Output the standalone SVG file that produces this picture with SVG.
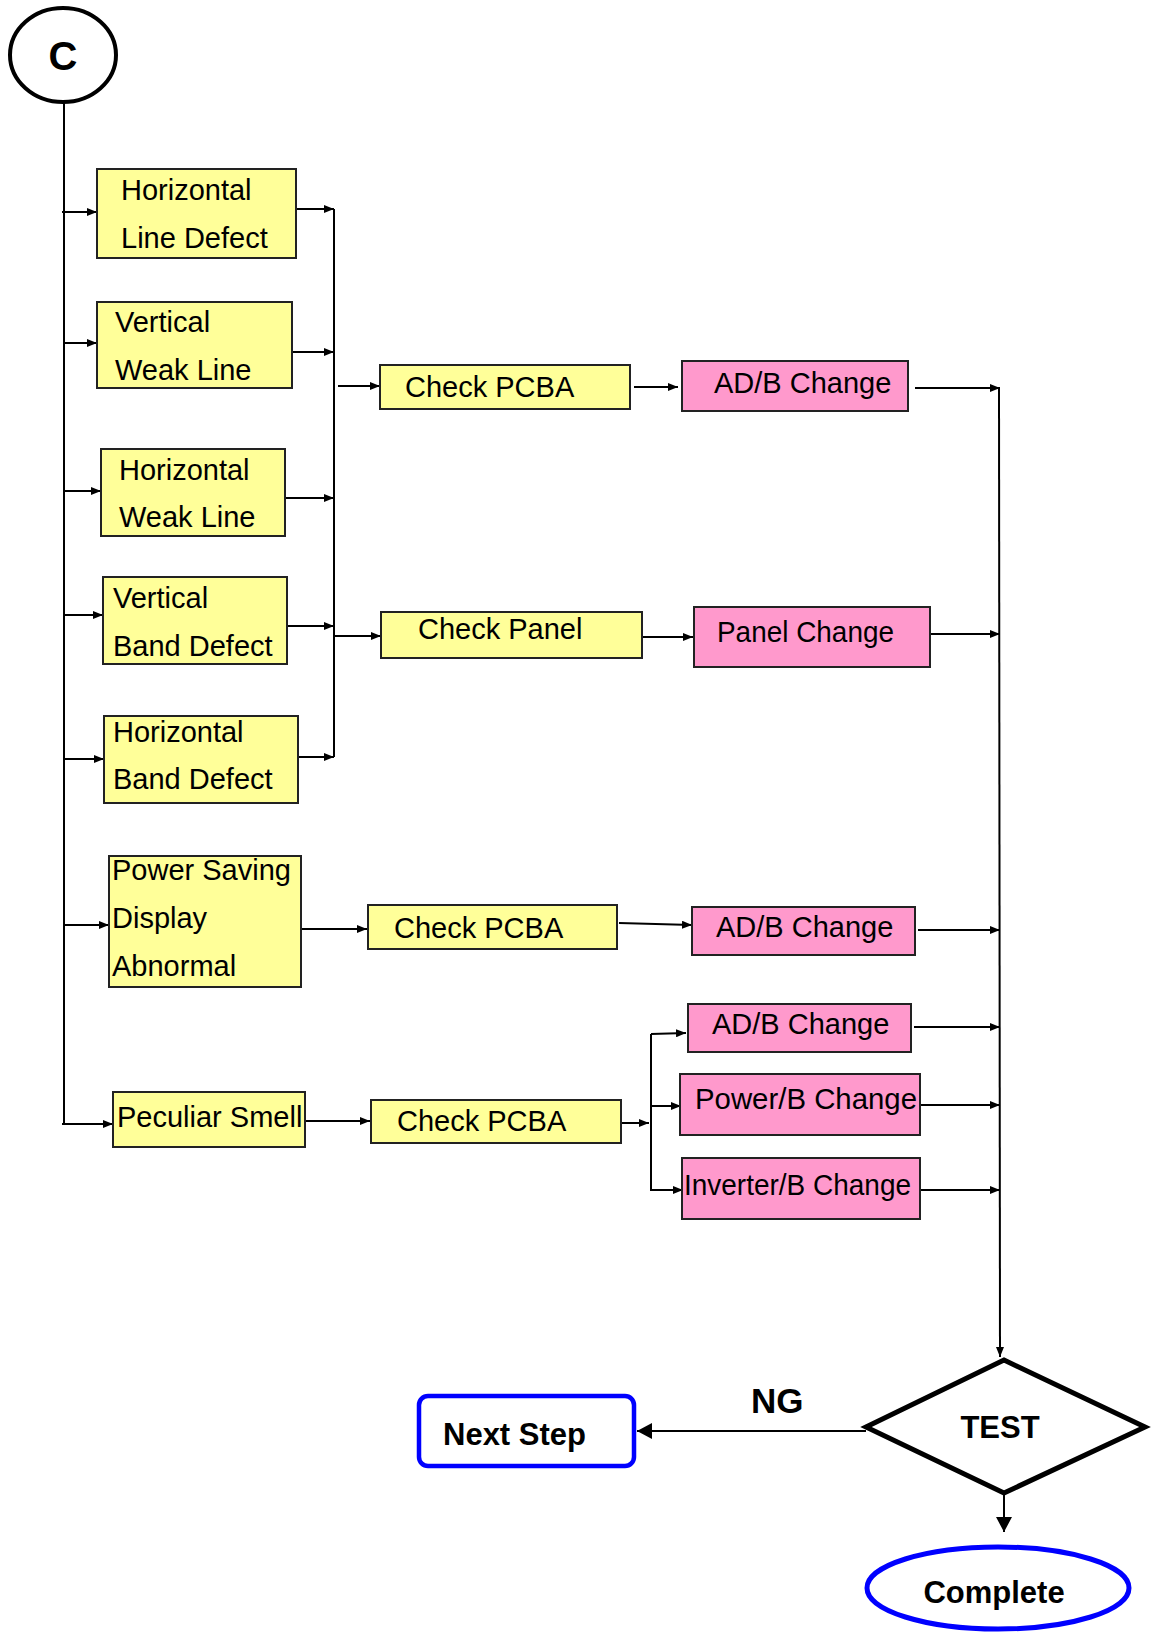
<svg xmlns="http://www.w3.org/2000/svg" width="1154" height="1632" viewBox="0 0 1154 1632">
<defs>
<style>
.y{fill:#FFFF99;stroke:#222;stroke-width:2}
.p{fill:#FF99CC;stroke:#222;stroke-width:2}
.t{font-family:"Liberation Sans",Arial,sans-serif;font-size:29px;fill:#000}
.b{font-family:"Liberation Sans",Arial,sans-serif;font-weight:bold;fill:#000}
.c line,.c polyline{stroke:#000;stroke-width:2;fill:none;marker-end:url(#a)}
.c .big{marker-end:url(#A)}
.c .n{marker-end:none}
</style>
<marker id="a" markerUnits="userSpaceOnUse" markerWidth="10" markerHeight="8" refX="10" refY="4" orient="auto"><path d="M0,0 L10,4 L0,8 z" fill="#000"/></marker>
<marker id="A" markerUnits="userSpaceOnUse" markerWidth="15" markerHeight="16" refX="15" refY="8" orient="auto"><path d="M0,0 L15,8 L0,16 z" fill="#000"/></marker>
</defs>
<rect width="1154" height="1632" fill="#fff"/>

<g class="c" id="connectors">
<line class="n" x1="64" y1="103" x2="64" y2="1124"/>
<line x1="62" y1="212" x2="97" y2="212"/>
<line x1="64" y1="343" x2="97" y2="343"/>
<line x1="64" y1="491" x2="101" y2="491"/>
<line x1="64" y1="615" x2="103" y2="615"/>
<line x1="64" y1="759" x2="104" y2="759"/>
<line x1="64" y1="925" x2="109" y2="925"/>
<line x1="62" y1="1124" x2="113" y2="1124"/>
<line x1="296" y1="209" x2="334" y2="209"/>
<line x1="292" y1="352" x2="334" y2="352"/>
<line x1="285" y1="498" x2="334" y2="498"/>
<line x1="287" y1="626" x2="334" y2="626"/>
<line x1="298" y1="757" x2="334" y2="757"/>
<line class="n" x1="334" y1="209" x2="334" y2="757"/>
<line x1="338" y1="386" x2="380" y2="386"/>
<line x1="334" y1="636" x2="381" y2="636"/>
<line x1="634" y1="387" x2="678" y2="387"/>
<line x1="643" y1="637" x2="693" y2="637"/>
<line x1="915" y1="388" x2="1000" y2="388"/>
<line x1="930" y1="634" x2="1000" y2="634"/>
<line x1="301" y1="929" x2="367" y2="929"/>
<line x1="619" y1="923" x2="692" y2="925"/>
<line x1="918" y1="930" x2="1000" y2="930"/>
<line x1="305" y1="1121" x2="370" y2="1121"/>
<line x1="622" y1="1123" x2="649" y2="1123"/>
<line class="n" x1="651" y1="1034" x2="651" y2="1191"/>
<polyline points="651,1034 686,1033"/>
<line x1="651" y1="1106" x2="681" y2="1106"/>
<line x1="651" y1="1190" x2="683" y2="1190"/>
<line x1="914" y1="1027" x2="1000" y2="1027"/>
<line x1="921" y1="1105" x2="1000" y2="1105"/>
<line x1="921" y1="1190" x2="1000" y2="1190"/>
<line x1="999" y1="388" x2="1000" y2="1357"/>
<line class="big" x1="866" y1="1431" x2="637" y2="1431"/>
<line class="big" x1="1004" y1="1493" x2="1004" y2="1532"/>
</g>

<g id="nC"><ellipse cx="63" cy="55" rx="53" ry="47" fill="#fff" stroke="#000" stroke-width="4"/><text class="b" x="63" y="70" font-size="40" text-anchor="middle">C</text></g>

<g id="n1"><rect class="y" x="97" y="169" width="199" height="89"/><text class="t" x="121" y="200">Horizontal</text><text class="t" x="121" y="248">Line Defect</text></g>
<g id="n2"><rect class="y" x="97" y="302" width="195" height="86"/><text class="t" x="115" y="332">Vertical</text><text class="t" x="115" y="380">Weak Line</text></g>
<g id="n3"><rect class="y" x="101" y="449" width="184" height="87"/><text class="t" x="119" y="480">Horizontal</text><text class="t" x="119" y="527">Weak Line</text></g>
<g id="n4"><rect class="y" x="103" y="577" width="184" height="87"/><text class="t" x="113" y="608">Vertical</text><text class="t" x="113" y="656">Band Defect</text></g>
<g id="n5"><rect class="y" x="104" y="716" width="194" height="87"/><text class="t" x="113" y="742">Horizontal</text><text class="t" x="113" y="789">Band Defect</text></g>
<g id="n6"><rect class="y" x="109" y="856" width="192" height="131"/><text class="t" x="112" y="880">Power Saving</text><text class="t" x="112" y="928">Display</text><text class="t" x="112" y="976">Abnormal</text></g>
<g id="n7"><rect class="y" x="113" y="1092" width="192" height="55"/><text class="t" x="117" y="1127">Peculiar Smell</text></g>

<g id="n8"><rect class="y" x="380" y="365" width="250" height="44"/><text class="t" x="405" y="397">Check PCBA</text></g>
<g id="n9"><rect class="y" x="381" y="612" width="261" height="46"/><text class="t" x="418" y="639">Check Panel</text></g>
<g id="n10"><rect class="y" x="368" y="905" width="249" height="44"/><text class="t" x="394" y="938">Check PCBA</text></g>
<g id="n11"><rect class="y" x="371" y="1100" width="250" height="43"/><text class="t" x="397" y="1131">Check PCBA</text></g>

<g id="n12"><rect class="p" x="682" y="361" width="226" height="50"/><text class="t" x="714" y="393">AD/B Change</text></g>
<g id="n13"><rect class="p" x="694" y="607" width="236" height="60"/><text class="t" x="717" y="642" textLength="177" lengthAdjust="spacingAndGlyphs">Panel Change</text></g>
<g id="n14"><rect class="p" x="692" y="907" width="223" height="48"/><text class="t" x="716" y="937">AD/B Change</text></g>
<g id="n15"><rect class="p" x="688" y="1004" width="223" height="48"/><text class="t" x="712" y="1034">AD/B Change</text></g>
<g id="n16"><rect class="p" x="680" y="1074" width="240" height="61"/><text class="t" x="695" y="1109" textLength="222" lengthAdjust="spacingAndGlyphs">Power/B Change</text></g>
<g id="n17"><rect class="p" x="682" y="1158" width="238" height="61"/><text class="t" x="684" y="1195" textLength="227" lengthAdjust="spacingAndGlyphs">Inverter/B Change</text></g>

<g id="nTest"><polygon points="1004,1360 1145,1427 1004,1493 866,1427" fill="#fff" stroke="#000" stroke-width="5"/><text class="b" x="1000" y="1438" font-size="31" text-anchor="middle">TEST</text></g>
<g id="lNG"><text class="b" x="751" y="1413" font-size="35">NG</text></g>
<g id="nNext"><rect x="419" y="1396" width="215" height="70" rx="9" fill="#fff" stroke="#0000FF" stroke-width="4.5"/><text class="b" x="443" y="1445" font-size="31">Next Step</text></g>
<g id="nComplete"><ellipse cx="998" cy="1588" rx="131" ry="41" fill="#fff" stroke="#0000FF" stroke-width="5"/><text class="b" x="994" y="1603" font-size="31" text-anchor="middle">Complete</text></g>
</svg>
